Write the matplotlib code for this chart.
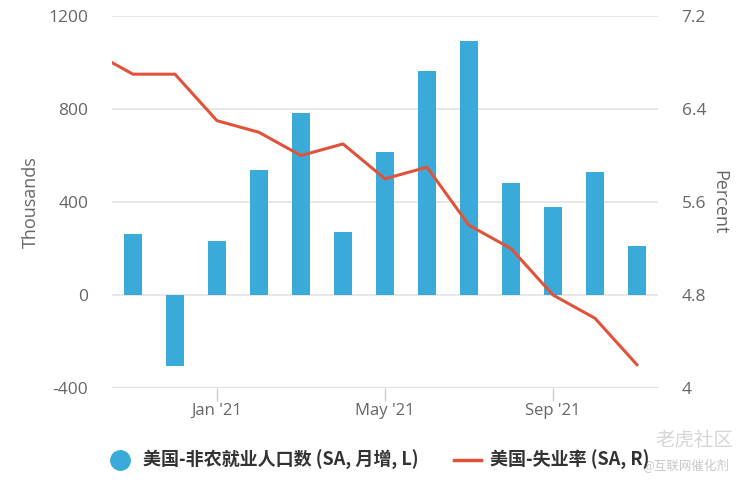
import numpy as np
import matplotlib
matplotlib.use("Agg")
import matplotlib.pyplot as plt
from matplotlib.lines import Line2D

plt.rcParams['font.family'] = ['Open Sans', 'Noto Sans CJK SC', 'DejaVu Sans']
plt.rcParams['axes.unicode_minus'] = False

# month index 0 = Nov 2020
months = ['Nov 20', 'Dec 20', 'Jan 21', 'Feb 21', 'Mar 21', 'Apr 21', 'May 21',
          'Jun 21', 'Jul 21', 'Aug 21', 'Sep 21', 'Oct 21', 'Nov 21']
payrolls = [264, -306, 233, 536, 785, 269, 614, 962, 1091, 483, 379, 531, 210]
# unemployment starts at Oct 2020 (index -1)
unemp = [6.9, 6.7, 6.7, 6.3, 6.2, 6.0, 6.1, 5.8, 5.9, 5.4, 5.2, 4.8, 4.6, 4.2]
tick_pos = [2, 6, 10]
tick_labels = ["Jan '21", "May '21", "Sep '21"]

bar_color = '#3aabd9'
line_color = '#e0533b'
txt = '#666666'
grid = '#e3e3e3'

fig = plt.figure(figsize=(7.49, 4.83), dpi=100)
ax = fig.add_axes([0.1495, 0.1967, 0.729, 0.770])
x = np.arange(len(payrolls))
ax.bar(x, payrolls, width=0.43, color=bar_color, zorder=2)
ax.set_ylim(-400, 1200)
ax.set_yticks([-400, 0, 400, 800, 1200])
ax.set_xlim(-0.5, 12.5)
ax.set_xticks(tick_pos)
ax.set_xticklabels(tick_labels)
ax.grid(axis='y', color=grid, lw=1.2, zorder=0)
for s in ax.spines.values():
    s.set_visible(False)
ax.axhline(-400, color='#cccccc', lw=1.5, zorder=1)
ax.tick_params(axis='x', length=9, width=1, color='#cccccc', colors=txt, labelsize=12, pad=2)
ax.tick_params(axis='y', length=0, colors=txt, labelsize=12.5, pad=17)
ax.set_ylabel('Thousands', color=txt, fontsize=13, labelpad=6)

ax2 = ax.twinx()
ax2.plot(np.arange(-1, len(unemp) - 1), unemp, color=line_color, lw=2.2, zorder=3)
ax2.set_ylim(4, 7.2)
ax2.set_yticks([4, 4.8, 5.6, 6.4, 7.2])
ax2.set_yticklabels(['4', '4.8', '5.6', '6.4', '7.2'])
ax2.set_xlim(-0.5, 12.5)
for s in ax2.spines.values():
    s.set_visible(False)
ax2.tick_params(axis='y', length=0, colors=txt, labelsize=12.5, pad=17)
ax2.set_ylabel('Percent', color=txt, fontsize=13, rotation=270, labelpad=16)

handles = [Line2D([], [], marker='o', ls='', color=bar_color, markersize=14),
           Line2D([], [], color=line_color, lw=2.5)]
labels = ['美国-非农就业人口数 (SA, 月增, L)', '美国-失业率 (SA, R)']
leg = fig.legend(handles, labels, loc='center', bbox_to_anchor=(0.505, 0.047),
                 ncol=2, frameon=False, handlelength=1.5, handletextpad=0.5,
                 columnspacing=2.0,
                 prop={'family': ['Noto Sans CJK SC'], 'weight': 'bold', 'size': 13})
for t in leg.get_texts():
    t.set_color('#333333')

fig.text(0.875, 0.088, '老虎社区', color='#d6d6d6', fontsize=14,
         family=['Noto Sans CJK SC'], ha='left', va='center')
fig.text(0.858, 0.035, '@互联网催化剂', color='#c8c8c8', fontsize=9,
         family=['Noto Sans CJK SC'], ha='left', va='center')

fig.savefig('out.png', dpi=100)
